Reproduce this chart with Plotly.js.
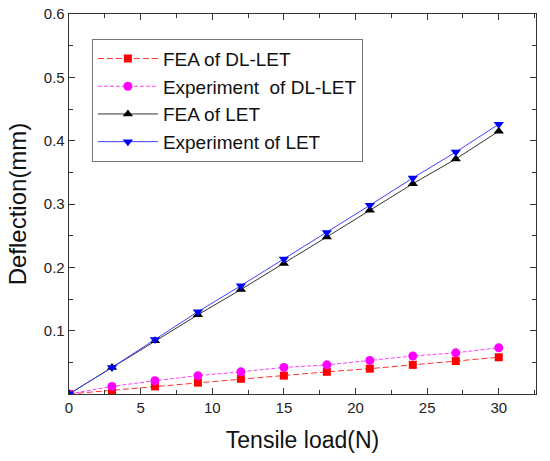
<!DOCTYPE html>
<html>
<head>
<meta charset="utf-8">
<script src="https://cdn.plot.ly/plotly-3.0.1.min.js"></script>
<style>
  html, body { margin: 0; padding: 0; background: #fff; }
  #chart { width: 550px; height: 461px; }
</style>
</head>
<body>
<div id="chart"></div>
<script>
// tensile load in N
var load = [0, 3, 6, 9, 12, 15, 18, 21, 24, 27, 30];

// deflection in mm
var feaDL = [0, 0.006, 0.012, 0.018, 0.024, 0.029, 0.035, 0.040, 0.046, 0.052, 0.058];
var expDL = [0, 0.012, 0.021, 0.029, 0.035, 0.042, 0.046, 0.053, 0.060, 0.065, 0.073];
var feaLET = [0, 0.042, 0.084, 0.125, 0.165, 0.206, 0.248, 0.290, 0.332, 0.371, 0.415];
var expLET = [0, 0.042, 0.086, 0.130, 0.171, 0.213, 0.255, 0.298, 0.341, 0.382, 0.426];

var names = ['FEA of DL-LET', 'Experiment  of DL-LET', 'FEA of LET', 'Experiment of LET'];

var traces = [
  {x: load, y: feaDL, name: names[0], mode: 'lines+markers',
   line: {color: '#ff3030', width: 1, dash: '6px,3px'},
   marker: {symbol: 'square', size: 8, color: '#ff0000'}},
  {x: load, y: expDL, name: names[1], mode: 'lines+markers',
   line: {color: '#ff40ff', width: 1, dash: '4px,2px'},
   marker: {symbol: 'circle', size: 9, color: '#ff00ff'}},
  {x: load, y: feaLET, name: names[2], mode: 'lines+markers',
   line: {color: '#333333', width: 1},
   marker: {symbol: 'triangle-up', size: 9, color: '#000000'}},
  {x: load, y: expLET, name: names[3], mode: 'lines+markers',
   line: {color: '#4040ff', width: 1},
   marker: {symbol: 'triangle-down', size: 9, color: '#0000ff'}}
];

var fam = 'Liberation Sans, Arial, sans-serif';
var axisFont = {family: fam, size: 15, color: '#222'};

var layout = {
  width: 550,
  height: 461,
  margin: {l: 69, r: 14, t: 14, b: 67},
  paper_bgcolor: '#fff',
  plot_bgcolor: '#fff',
  font: {family: fam, color: '#111'},
  showlegend: true,
  legend: {
    x: 0.049, y: 0.935, xanchor: 'left', yanchor: 'top',
    bgcolor: 'rgba(255,255,255,0)',
    bordercolor: '#777', borderwidth: 1,
    font: {family: fam, size: 19, color: '#111'},
    itemwidth: 60
  },
  xaxis: {
    title: {text: 'Tensile load(N)', font: {family: fam, size: 23, color: '#111'}, standoff: 16},
    range: [0, 32.6],
    tick0: 0, dtick: 5,
    ticks: 'inside', ticklen: 6, tickwidth: 1, tickcolor: '#333',
    minor: {dtick: 2.5, ticks: 'inside', ticklen: 4, tickcolor: '#333'},
    showline: true, linecolor: '#333', linewidth: 1.3, mirror: 'allticks',
    showgrid: false, zeroline: false,
    tickfont: axisFont
  },
  yaxis: {
    title: {text: 'Deflection(mm)', font: {family: fam, size: 24, color: '#111'}, standoff: 10},
    range: [0, 0.6],
    tick0: 0, dtick: 0.1,
    tickvals: [0.1, 0.2, 0.3, 0.4, 0.5, 0.6],
    ticks: 'inside', ticklen: 6, tickwidth: 1, tickcolor: '#333',
    minor: {dtick: 0.05, ticks: 'inside', ticklen: 4, tickcolor: '#333'},
    showline: true, linecolor: '#333', linewidth: 1.3, mirror: 'allticks',
    showgrid: false, zeroline: false,
    tickfont: axisFont
  }
};

Plotly.newPlot('chart', traces, layout, {displayModeBar: false, staticPlot: true});
</script>
</body>
</html>
